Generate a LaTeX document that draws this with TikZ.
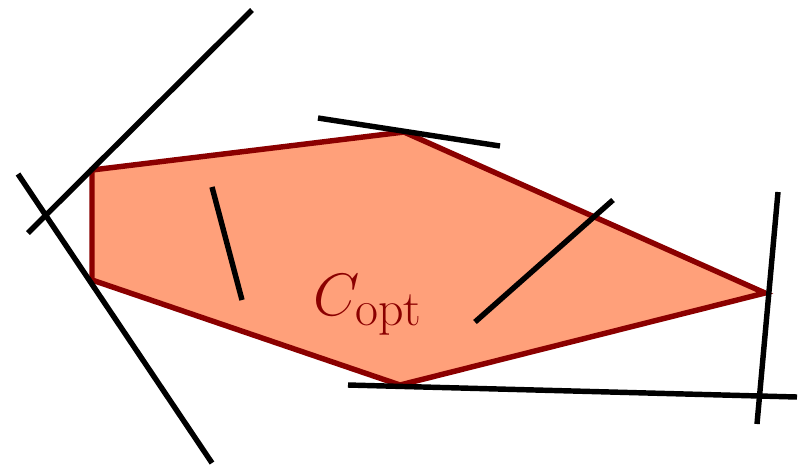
\documentclass[tikz,border=0pt]{standalone}
\usepackage{amsmath,amssymb}
\usepackage{graphicx}
\usepackage{xcolor}
\usetikzlibrary{positioning, calc}
\definecolor{optfill}{RGB}{255,160,122}
\definecolor{optedge}{RGB}{139,0,0}

\begin{document}
\begin{tikzpicture}[x=0.02cm, y=-0.02cm,
  region/.style={draw=optedge, fill=optfill, line width=3.1pt, line join=miter},
  cut/.style={draw=black, line width=3.1pt},
  lab/.style={text=optedge, font=\Huge, inner sep=0pt}]
  \useasboundingbox (0,0) rectangle (805,468);
  % the polygon
  \coordinate (tl) at (92,170);
  \coordinate (top) at (404,132);
  \coordinate (rt) at (765,293);
  \coordinate (bot) at (400,385);
  \coordinate (bl) at (92,280);
  \fill[region] (tl) -- (top) -- (rt) -- (bot) -- (bl) -- cycle;
  \node[lab, anchor=base west] (copt) at (313,315) {\scalebox{1.37}{$C_{\text{opt}}$}};
  % supporting and stray lines
  \draw[cut] (28,233) -- (252,10);
  \draw[cut] (18,174) -- (212,463);
  \draw[cut] (318,118) -- (500,146);
  \draw[cut] (212,187) -- (242,300);
  \draw[cut] (475,322) -- (613,200);
  \draw[cut] (778,192) -- (757,424);
  \draw[cut] (348,385) -- (797,397);
\end{tikzpicture}
\end{document}
